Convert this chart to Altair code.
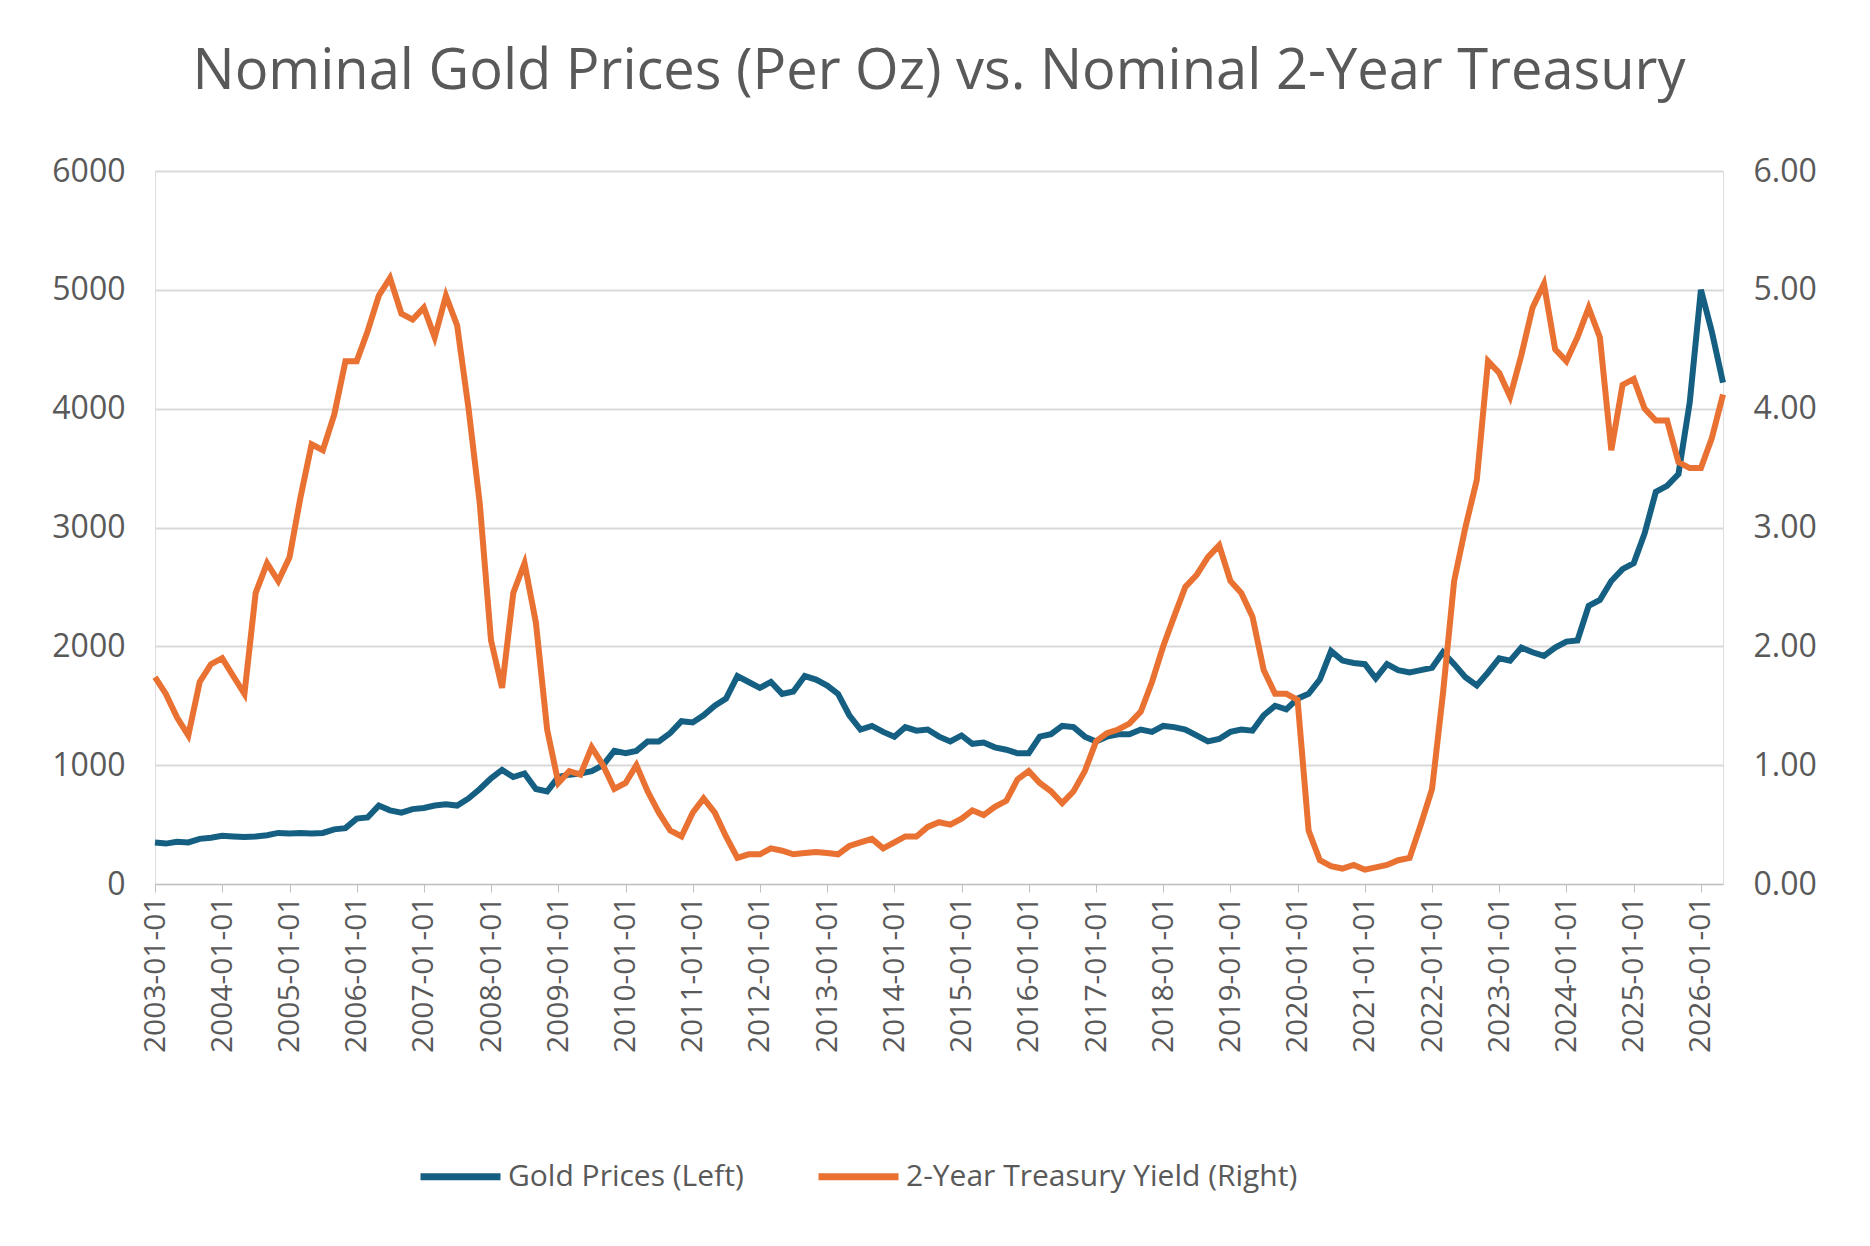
import pandas as pd
import altair as alt

# bimonthly samples (Jan, Mar, May, Jul, Sep, Nov), 2003-01 .. 2026-05
dates = pd.date_range("2003-01-01", "2026-05-01", freq="2MS")

gold = [
    350, 340, 355, 350, 380, 390,
    405, 400, 395, 400, 410, 430,
    425, 430, 425, 430, 460, 470,
    550, 560, 660, 620, 600, 630,
    640, 660, 670, 660, 720, 800,
    890, 960, 900, 930, 800, 780,
    900, 920, 930, 950, 1000, 1120,
    1100, 1120, 1200, 1200, 1270, 1370,
    1360, 1420, 1500, 1560, 1750, 1700,
    1650, 1700, 1600, 1620, 1750, 1720,
    1670, 1600, 1420, 1300, 1330, 1280,
    1240, 1320, 1290, 1300, 1240, 1200,
    1250, 1180, 1190, 1150, 1130, 1100,
    1100, 1240, 1260, 1330, 1320, 1240,
    1200, 1240, 1260, 1260, 1300, 1280,
    1330, 1320, 1300, 1250, 1200, 1220,
    1280, 1300, 1290, 1420, 1500, 1470,
    1560, 1600, 1720, 1960, 1880, 1860,
    1850, 1730, 1850, 1800, 1780, 1800,
    1820, 1950, 1850, 1740, 1670, 1780,
    1900, 1880, 1990, 1950, 1920, 1990,
    2040, 2050, 2340, 2390, 2550, 2650,
    2700, 2950, 3300, 3350, 3450, 4050,
    5000, 4650, 4220,
]

treasury = [
    1.74, 1.60, 1.40, 1.25, 1.70, 1.85,
    1.90, 1.75, 1.60, 2.45, 2.70, 2.55,
    2.75, 3.25, 3.70, 3.65, 3.95, 4.40,
    4.40, 4.65, 4.95, 5.10, 4.80, 4.75,
    4.85, 4.60, 4.95, 4.70, 4.00, 3.20,
    2.05, 1.65, 2.45, 2.70, 2.20, 1.30,
    0.85, 0.95, 0.92, 1.15, 1.00, 0.80,
    0.85, 1.00, 0.78, 0.60, 0.45, 0.40,
    0.60, 0.72, 0.60, 0.40, 0.22, 0.25,
    0.25, 0.30, 0.28, 0.25, 0.26, 0.27,
    0.26, 0.25, 0.32, 0.35, 0.38, 0.30,
    0.35, 0.40, 0.40, 0.48, 0.52, 0.50,
    0.55, 0.62, 0.58, 0.65, 0.70, 0.88,
    0.95, 0.85, 0.78, 0.68, 0.78, 0.95,
    1.20, 1.27, 1.30, 1.35, 1.45, 1.70,
    2.00, 2.25, 2.50, 2.60, 2.75, 2.85,
    2.55, 2.45, 2.25, 1.80, 1.60, 1.60,
    1.55, 0.45, 0.20, 0.15, 0.13, 0.16,
    0.12, 0.14, 0.16, 0.20, 0.22, 0.50,
    0.80, 1.60, 2.55, 3.00, 3.40, 4.40,
    4.30, 4.10, 4.45, 4.85, 5.05, 4.50,
    4.40, 4.60, 4.85, 4.60, 3.65, 4.20,
    4.25, 4.00, 3.90, 3.90, 3.55, 3.50,
    3.50, 3.75, 4.12,
]

series_names = ["Gold Prices (Left)", "2-Year Treasury Yield (Right)"]
series_colors = ["#156082", "#e97132"]

df = pd.concat([
    pd.DataFrame({"date": dates, "value": gold, "series": series_names[0]}),
    pd.DataFrame({"date": dates, "value": treasury, "series": series_names[1]}),
])

FONT = "Open Sans"
GREY = "#595959"

color = alt.Color("series:N", sort=series_names,
                  scale=alt.Scale(domain=series_names, range=series_colors),
                  legend=alt.Legend(orient="none", legendX=262, legendY=962, direction="horizontal",
                                    title=None, symbolType="stroke", symbolStrokeWidth=7,
                                    symbolSize=6400, labelFontSize=30, labelColor=GREY,
                                    labelFont=FONT, columnPadding=60, labelOffset=4, labelLimit=0))

x = alt.X("date:T", title=None,
          scale=alt.Scale(domain=["2003-01-01", "2026-05-01"]),
          axis=alt.Axis(values=[f"{y}-01-01" for y in range(2003, 2027)],
                        labelExpr="timeFormat(datum.value, '%Y-%m-%d')",
                        labelAngle=270, labelFontSize=30, labelColor=GREY, labelFont=FONT,
                        domainColor="#bfbfbf", tickColor="#bfbfbf", tickSize=8, grid=False,
                        labelPadding=4))

base = alt.Chart(df).encode(x=x, color=color)

gold_line = base.transform_filter(alt.datum.series == series_names[0]).mark_line(strokeWidth=6).encode(
    y=alt.Y("value:Q", title=None, scale=alt.Scale(domain=[0, 6000]),
            axis=alt.Axis(values=list(range(0, 6001, 1000)), format="d", labelFontSize=32,
                          labelColor=GREY, labelFont=FONT, domain=False, ticks=False,
                          gridColor="#d9d9d9", gridWidth=2, labelPadding=30))
)

yield_line = base.transform_filter(alt.datum.series == series_names[1]).mark_line(strokeWidth=6).encode(
    y=alt.Y("value:Q", title=None, scale=alt.Scale(domain=[0, 6]),
            axis=alt.Axis(orient="right", values=list(range(0, 7)), format=".2f", labelFontSize=32,
                          labelColor=GREY, labelFont=FONT, domain=False, ticks=False, grid=False,
                          labelPadding=30))
)

chart = (gold_line + yield_line).resolve_scale(y="independent").properties(
    width=1568, height=713,
    autosize=alt.AutoSizeParams(type="none"),
    padding={"left": 147, "top": 163, "right": 139, "bottom": 340},
    title=alt.TitleParams("Nominal Gold Prices (Per Oz) vs. Nominal 2-Year Treasury",
                          fontSize=56, font=FONT, fontWeight="normal", color=GREY,
                          anchor="middle", offset=54),
).configure_view(stroke=None).configure(background="white")

chart.save("out.html", embed_options={"renderer": "svg", "actions": False})
